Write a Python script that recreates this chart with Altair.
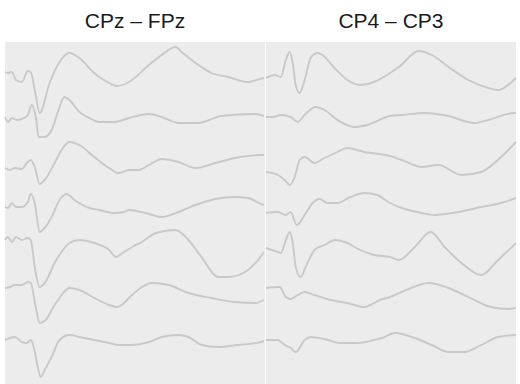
import altair as alt
import pandas as pd

# Averaged evoked responses, one trace per condition (7 rows), for two derivations.
# Times are in samples from the start of the epoch; amplitudes are relative to each
# trace's own baseline (positive = up).

CPZ_FPZ_TIMES = [
    [0, 3, 7, 11, 17, 23, 26, 30, 35, 45, 55, 65, 75, 90, 105, 113, 125, 145, 158, 172, 178, 195, 208, 225, 245, 257, 261],
    [0, 3, 7, 12, 17, 23, 27, 31, 34, 40, 47, 53, 60, 65, 75, 85, 95, 110, 125, 145, 158, 175, 195, 218, 252, 261],
    [0, 5, 10, 17, 22, 26, 30, 35, 40, 50, 57, 65, 75, 90, 105, 115, 125, 135, 145, 158, 175, 192, 212, 232, 258, 261],
    [0, 3, 7, 11, 17, 23, 26, 30, 35, 40, 47, 55, 62, 70, 85, 95, 110, 120, 125, 142, 158, 175, 192, 212, 232, 245, 258, 261],
    [0, 3, 7, 11, 17, 23, 26, 30, 35, 42, 50, 57, 65, 75, 90, 105, 112, 120, 130, 138, 152, 172, 185, 198, 215, 225, 242, 255, 261],
    [0, 5, 10, 17, 23, 26, 31, 35, 41, 50, 57, 65, 75, 90, 105, 113, 120, 127, 138, 148, 165, 185, 208, 232, 252, 261],
    [0, 5, 10, 17, 22, 26, 29, 33, 36, 40, 47, 55, 65, 75, 90, 105, 115, 128, 145, 158, 175, 185, 198, 215, 235, 258, 261],
]
CPZ_FPZ_AMPS = [
    [0, -1, 0, -8, -10, 1, 0, -18, -41, -11, 10, 19, 14, -1, -11, -14, -10, 7, 17, 25, 20, 7, -1, -5, -10, -7, -6],
    [0.5, -4.5, -0.5, -2.5, -1.5, 2.5, 12.5, 0.5, -19.5, -19.5, -12.5, 4.5, 20.5, 17.5, 5.5, -0.5, -4.5, -4.5, -0.5, 3.5, 0.5, -5.5, -5.5, 1.5, 3.5, 1.5],
    [-5, -7, -5, -6, 0, 3, -4, -21, -17, 0, 13, 21, 18, 6, -5, -10, -7, -7, -2, 4, 1, -5, 0, 5, 8, 8],
    [1.5, 0.5, 5.5, 1.5, 1.5, 6.5, 14.5, 5.5, -23.5, -19.5, -8.5, 8.5, 14.5, 8.5, 0.5, -1.5, -4.5, -3.5, -1.5, -4.5, -8.5, -3.5, 3.5, 9.5, 11.5, 10.5, 4.5, 3.5],
    [14, 17, 12, 17, 14, 16, 14, -13, -33, -26, -9, 2, 11, 14, 11, 4, -3, 2, 8, 12, 21, 24, 14, -3, -23, -23, -18, -6, 2],
    [11.5, 12.5, 14.5, 14.5, 17.5, 16.5, -7.5, -23.5, -20.5, -5.5, 4.5, 11.5, 9.5, 1.5, -5.5, -7.5, -3.5, 3.5, 12.5, 16.5, 14.5, 6.5, 1.5, -2.5, -3.5, -0.5],
    [5, 7, 8, 3, 2, 5, -2, -22, -32, -25, -12, 5, 10, 8, 5, 2, 0, 0, 3, 8, 10, 8, 0, -2, 0, 3, 4],
]

CP4_CP3_TIMES = [
    [0, 9, 15, 20, 24, 27, 30, 34, 39, 45, 52, 57, 69, 82, 95, 109, 117, 125, 134, 154, 167, 184, 204, 224, 234, 244, 252],
    [0, 7, 15, 25, 32, 39, 50, 59, 72, 89, 102, 125, 137, 160, 184, 210, 224, 250, 252],
    [0, 12, 19, 24, 29, 34, 39, 49, 59, 72, 82, 99, 125, 137, 157, 174, 197, 217, 237, 252],
    [0, 12, 20, 25, 31, 39, 47, 54, 62, 72, 85, 99, 112, 125, 137, 157, 170, 194, 217, 237, 252],
    [0, 12, 15, 20, 24, 27, 30, 35, 40, 49, 59, 70, 82, 95, 109, 125, 134, 150, 166, 180, 197, 217, 234, 252],
    [0, 14, 20, 25, 32, 39, 49, 65, 82, 99, 115, 125, 137, 164, 184, 204, 227, 244, 252],
    [0, 12, 19, 25, 30, 39, 45, 59, 75, 92, 109, 117, 130, 150, 167, 184, 200, 217, 234, 252],
]
CP4_CP3_AMPS = [
    [-6, -3, -5, 12, 20, 9, -13, -21, -8, 14, 19, 17, 4, -8, -13, -10, -6, -1, 5, 21, 17, 5, -8, -16, -18, -13, -6],
    [0.5, 0.5, 2.5, 0.5, -4.5, 2.5, 10.5, 7.5, -2.5, -9.5, -7.5, 1.5, 2.5, 4.5, 1.5, -5.5, -2.5, 4.5, 4.5],
    [-9, -12, -17, -22, -14, 3, 6, 0, 5, 11, 15, 11, 7, 3, -4, -2, -12, -9, 6, 21],
    [-4.5, -3.5, -6.5, -3.5, -16.5, -6.5, 5.5, 9.5, 5.5, 5.5, 11.5, 15.5, 13.5, 5.5, 0.5, -4.5, -6.5, -3.5, 1.5, 5.5, 10.5],
    [6, 2, 1, 14, 22, 11, -13, -23, -13, 4, 9, 14, 11, 4, -1, -3, -6, 7, 22, 7, -9, -21, -6, 11],
    [11.5, 12.5, 2.5, 0.5, 4.5, 7.5, 4.5, -0.5, -3.5, -7.5, -0.5, 2.5, 7.5, 16.5, 11.5, 2.5, -7.5, -9.5, -8.5],
    [5, 5, 0, -3, -7, 5, 8, 6, 2, 2, 5, 7, 12, 7, 0, -7, -7, 0, 8, 10],
]

PANEL_TITLES = ["CPz – FPz", "CP4 – CP3"]
PANEL_SPANS = [262, 252]     # epoch length shown in each panel (samples)
PANEL_GAP = 1                # separation between the two panels (samples)

ROW_SPACING = 45.5           # vertical separation between stacked traces
AMP_BOTTOM = -312            # lowest amplitude shown (bottom of the panels)
AMP_TOP = 30                 # top edge of the panels
TITLE_LEVEL = 44             # baseline of the panel titles
VIEW_TOP = 72
MARGIN_LEFT = 5

TRACE_COLOR = "#c9c9c9"
PANEL_FILL = "#ececec"

# Lay the two derivations side by side on one shared time axis.
offsets = [0, PANEL_SPANS[0] + PANEL_GAP]
trace_rows, panel_rows = [], []
for p, (times, amps) in enumerate([(CPZ_FPZ_TIMES, CPZ_FPZ_AMPS), (CP4_CP3_TIMES, CP4_CP3_AMPS)]):
    panel_rows.append({
        "panel": PANEL_TITLES[p],
        "x0": offsets[p], "x1": offsets[p] + PANEL_SPANS[p],
        "xc": offsets[p] + PANEL_SPANS[p] / 2,
        "y0": AMP_BOTTOM, "y1": AMP_TOP, "yt": TITLE_LEVEL,
    })
    for i, (ts, vs) in enumerate(zip(times, amps)):
        for t, v in zip(ts, vs):
            trace_rows.append({
                "trace": f"{p}-{i}",
                "t": t + offsets[p],
                "y": v - i * ROW_SPACING,
            })

traces = pd.DataFrame(trace_rows)
panels = pd.DataFrame(panel_rows)

x_scale = alt.Scale(domain=[-MARGIN_LEFT, offsets[1] + PANEL_SPANS[1]], nice=False, zero=False)
y_scale = alt.Scale(domain=[AMP_BOTTOM, VIEW_TOP], nice=False, zero=False)

background = alt.Chart(panels).mark_rect(color=PANEL_FILL).encode(
    x=alt.X("x0:Q", axis=None, scale=x_scale),
    x2="x1:Q",
    y=alt.Y("y0:Q", axis=None, scale=y_scale),
    y2="y1:Q",
)

lines = alt.Chart(traces).mark_line(
    color=TRACE_COLOR, strokeWidth=1.9, interpolate="monotone"
).encode(
    x=alt.X("t:Q", axis=None, scale=x_scale),
    y=alt.Y("y:Q", axis=None, scale=y_scale),
    detail="trace:N",
)

titles = alt.Chart(panels).mark_text(
    font="Liberation Sans", fontSize=21, color="#1a1a1a",
    align="center", baseline="alphabetic",
).encode(
    x=alt.X("xc:Q", axis=None, scale=x_scale),
    y=alt.Y("yt:Q", axis=None, scale=y_scale),
    text="panel:N",
)

chart = alt.layer(background, lines, titles).properties(
    width=520,
    height=384,
    padding=0,
    autosize=alt.AutoSizeParams(type="fit", contains="padding"),
    background="white",
).configure_view(strokeWidth=0)

chart.save("out.html", embed_options={"renderer": "svg", "actions": False})
